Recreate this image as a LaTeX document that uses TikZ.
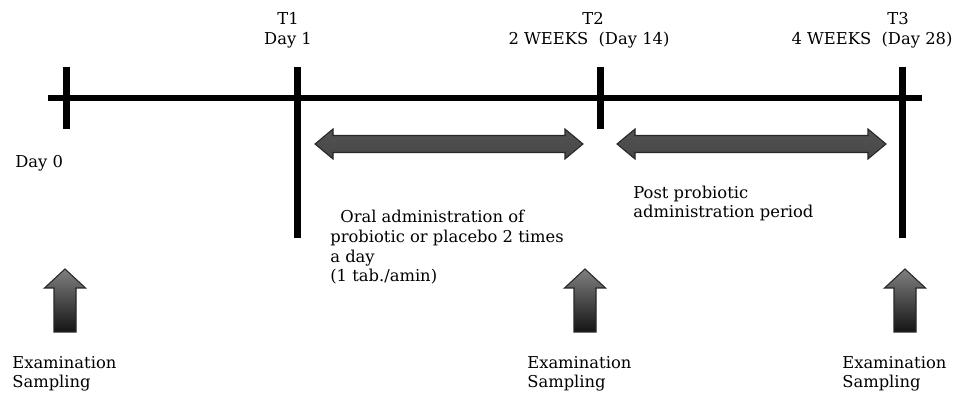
\documentclass[tikz,border=0pt]{standalone}
\usepackage{fontspec}
\setmainfont{DejaVu Serif}
\tikzset{
  timeline/.style={line width=0.12cm},
  tickmark/.style={line width=0.14cm},
  dblarrow/.style={draw=black!85, line width=0.6pt, top color=black!68, middle color=black!38, bottom color=black!72},
  uparrow/.style={draw=black!85, line width=0.6pt, top color=black!50, bottom color=black!92},
  lbl/.style={inner sep=0pt, align=left, font=\fontsize{9.3}{11.2}\selectfont}
}
\begin{document}
\begin{tikzpicture}
        \useasboundingbox (0,0) rectangle (19.08,7.92);
        % Drawing the time line
        \draw [timeline] (0.96,5.96) -- (18.44,5.96);%

        % Tick marks Day 0, T1, T2, T3
        \draw [tickmark] (1.32,6.58) -- (1.32,5.34);%
        \draw [tickmark] (5.94,6.58) -- (5.94,3.16);%
        \draw [tickmark] (12.00,6.58) -- (12.00,5.34);%
        \draw [tickmark] (18.04,6.58) -- (18.04,3.16);%

        % Labels above the ticks
        \node (t1) [lbl, anchor=base] at (5.76,7.42) {T1};%
        \node (t1day) [lbl, anchor=base] at (5.76,7.02) {Day 1};%
        \node (t2) [lbl, anchor=base] at (11.86,7.42) {T2};%
        \node (t2day) [lbl, anchor=base] at (11.78,7.02) {2 WEEKS\ \ (Day 14)};%
        \node (t3) [lbl, anchor=base] at (17.96,7.42) {T3};%
        \node (t3day) [lbl, anchor=base] at (17.44,7.02) {4 WEEKS\ \ (Day 28)};%
        \node (day0) [lbl, anchor=base west] at (0.30,4.56) {Day 0};%

        % Double arrow for the administration period
        \draw [dblarrow] (6.30,5.04) -- (6.66,5.34) -- (6.66,5.21) -- (11.30,5.21) -- (11.30,5.34) -- (11.66,5.04)
              -- (11.30,4.74) -- (11.30,4.87) -- (6.66,4.87) -- (6.66,4.74) -- cycle;%

        % Double arrow for the post probiotic period
        \draw [dblarrow] (12.34,5.04) -- (12.70,5.34) -- (12.70,5.21) -- (17.36,5.21) -- (17.36,5.34) -- (17.72,5.04)
              -- (17.36,4.74) -- (17.36,4.87) -- (12.70,4.87) -- (12.70,4.74) -- cycle;%

        % Period texts (base anchor sits on the last line)
        \node (oral) [lbl, anchor=base west] at (6.60,2.28)
              {\hspace*{0.2cm}Oral administration of\\probiotic or placebo 2 times\\a day\\(1 tab./amin)};%
        \node (post) [lbl, anchor=base west] at (12.66,3.56) {Post probiotic\\administration period};%

        % Upward arrows at the sampling points
        \draw [uparrow] (1.30,2.54) -- (1.71,2.16) -- (1.52,2.16) -- (1.52,1.28) -- (1.08,1.28) -- (1.08,2.16) -- (0.89,2.16) -- cycle;%
        \draw [uparrow] (11.70,2.54) -- (12.11,2.16) -- (11.92,2.16) -- (11.92,1.28) -- (11.48,1.28) -- (11.48,2.16) -- (11.29,2.16) -- cycle;%
        \draw [uparrow] (18.10,2.54) -- (18.51,2.16) -- (18.32,2.16) -- (18.32,1.28) -- (17.88,1.28) -- (17.88,2.16) -- (17.69,2.16) -- cycle;%

        % Sampling texts
        \node (exam0) [lbl, anchor=base west] at (0.24,0.16) {Examination\\Sampling};%
        \node (exam2) [lbl, anchor=base west] at (10.54,0.16) {Examination\\Sampling};%
        \node (exam3) [lbl, anchor=base west] at (16.84,0.16) {Examination\\Sampling};%
\end{tikzpicture}
\end{document}
